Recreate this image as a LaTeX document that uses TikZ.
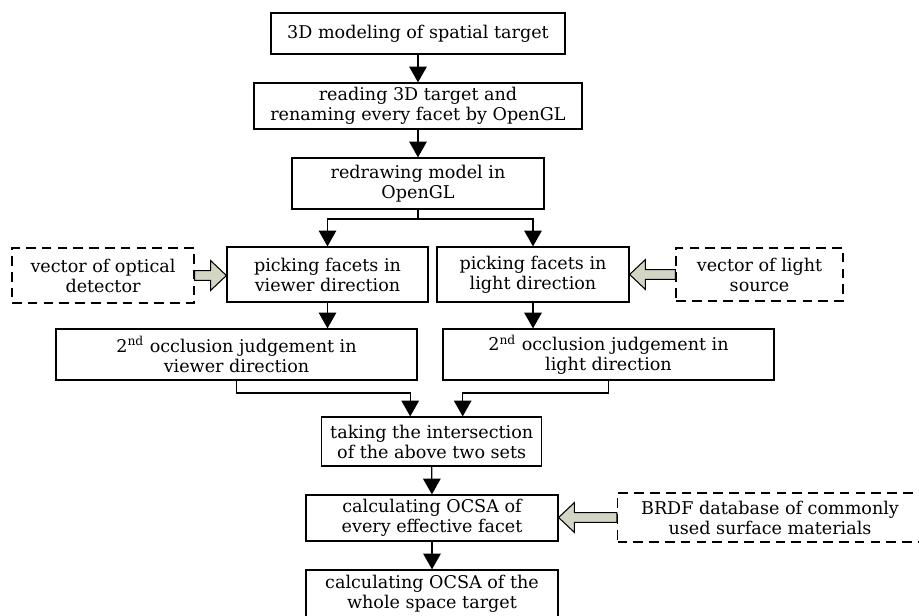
\documentclass[tikz,border=0pt]{standalone}
\usepackage{fontspec}
\setmainfont{DejaVu Serif}
\usetikzlibrary{arrows.meta,calc}
\definecolor{fatgray}{RGB}{211,214,196}
\tikzset{
  box/.style={draw,rectangle,line width=0.7pt,inner sep=0pt,align=center,
    font=\fontsize{10}{11.4}\selectfont},
  dbox/.style={box,dash pattern=on 5.5pt off 3.5pt},
  arr/.style={-{Triangle[length=9pt,width=10pt]},line width=0.7pt},
  line/.style={line width=0.7pt},
  fatarr/.style={draw,line width=0.6pt,fill=fatgray,line join=miter}
}
\newcommand{\fatarrow}[2]{%
  \draw[fatarr] let \p1=(#1), \p2=(#2), \n1={sign(\x2-\x1)*9} in
    (\x1,\y1+2.8pt) -- ({\x2-\n1*1pt},\y1+2.8pt) -- ({\x2-\n1*1pt},\y1+8.5pt)
    -- (\x2,\y1) -- ({\x2-\n1*1pt},\y1-8.5pt) -- ({\x2-\n1*1pt},\y1-2.8pt)
    -- (\x1,\y1-2.8pt) -- cycle;}
\begin{document}
\begin{tikzpicture}[x=0.02cm,y=-0.02cm]
\clip (0,0) rectangle (919,615);
\node[box,minimum width=5.88cm,minimum height=0.82cm] (model) at (418,33.5) {3D modeling of spatial target};
\node[box,minimum width=6.56cm,minimum height=0.92cm] (read) at (418,106) {reading 3D target and\\renaming every facet by OpenGL};
\node[box,minimum width=5.04cm,minimum height=1.02cm] (redraw) at (418,183.5) {redrawing model in\\OpenGL};
\node[box,minimum width=4.02cm,minimum height=1.10cm] (pickV) at (327.5,274.5) {picking facets in\\viewer direction};
\node[box,minimum width=3.84cm,minimum height=1.10cm] (pickL) at (533,274.5) {picking facets in\\light direction};
\node[dbox,minimum width=3.64cm,minimum height=1.10cm] (detector) at (103,275.5) {vector of optical\\detector};
\node[dbox,minimum width=3.34cm,minimum height=1.06cm] (source) at (759.5,274.5) {vector of light\\source};
\node[box,minimum width=7.22cm,minimum height=1.02cm] (occV) at (236.5,354.5) {2\textsuperscript{nd} occlusion judgement in\\viewer direction};
\node[box,minimum width=6.62cm,minimum height=1.02cm] (occL) at (608.5,354.5) {2\textsuperscript{nd} occlusion judgement in\\light direction};
\node[box,minimum width=4.40cm,minimum height=0.98cm] (inter) at (431.7,441.5) {taking the intersection\\of the above two sets};
\node[box,minimum width=5.04cm,minimum height=0.92cm] (ocsa) at (432,518) {calculating OCSA of\\every effective facet};
\node[dbox,minimum width=6.10cm,minimum height=0.98cm] (brdf) at (770,517.5) {BRDF database of commonly\\used surface materials};
\node[box,minimum width=5.04cm,minimum height=0.96cm] (whole) at (432,594) {calculating OCSA of the\\whole space target};

\coordinate (split) at (418,219);
\draw[arr] (model) -- (read);
\draw[arr] (read) -- (redraw);
\draw[line] (redraw.south) -- (split);
\draw[arr] (split) -| (pickV.north);
\draw[arr] (split) -| (pickL.north);
\draw[arr] (pickV) -- (occV.north -| pickV);
\draw[arr] (pickL) -- (occL.north -| pickL);
\draw[arr] (occV.south) -- ++(0,-0.25cm) -| ([xshift=-0.43cm]inter.north);
\draw[arr] (occL.south) -- ++(0,-0.25cm) -| ([xshift=0.62cm]inter.north);
\draw[arr] (inter) -- (ocsa);
\draw[arr] (ocsa) -- (whole);

\fatarrow{detector.east}{pickV.west}
\fatarrow{source.west}{pickL.east}
\fatarrow{brdf.west}{ocsa.east}
\end{tikzpicture}
\end{document}
